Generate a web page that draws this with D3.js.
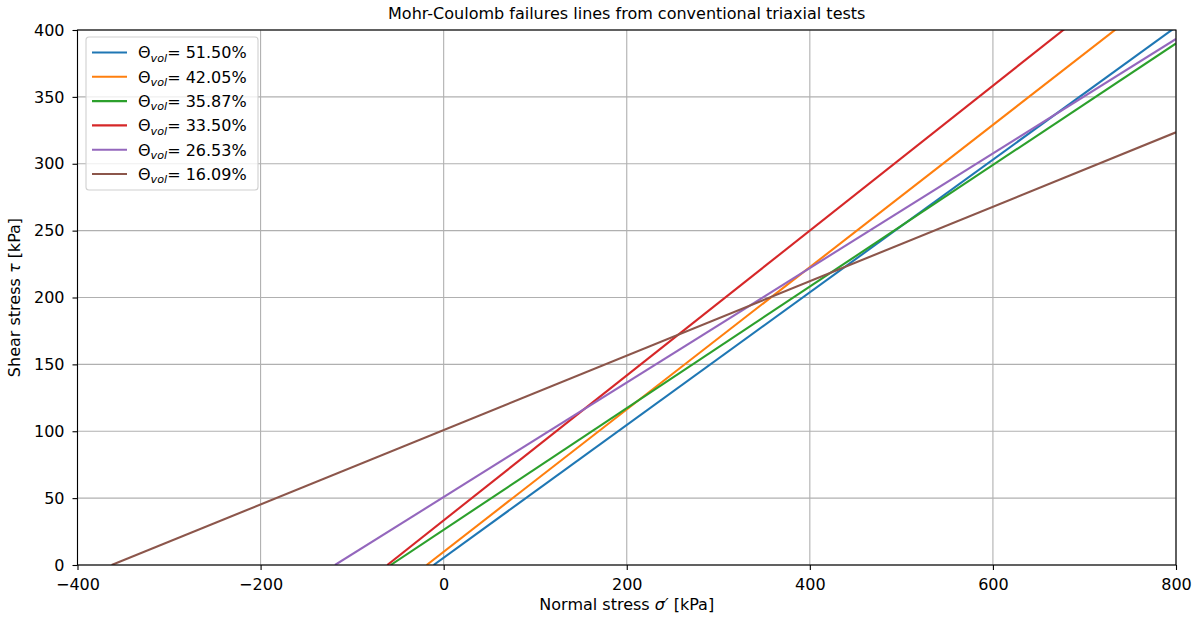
<!DOCTYPE html>
<html>
<head>
<meta charset="utf-8">
<script src="https://cdn.jsdelivr.net/npm/d3@7"></script>
<style>
  body { margin: 0; background: #fff; }
  svg text { font-family: "DejaVu Sans", sans-serif; fill: #000; }
</style>
</head>
<body>
<div id="chart"></div>
<script>
// series: each line runs from tau = 0 (sigmaStart) to sigma = 800 (tauEnd)
const labels = ["51.50%", "42.05%", "35.87%", "33.50%", "26.53%", "16.09%"]
const sigmaStart = [-11, -18.6, -57.9, -61.6, -118.7, -362.7]
const tauEnd = [402.3, 435.5, 390.0, 466.7, 393.3, 323.5]
const colors = ["#1f77b4", "#ff7f0e", "#2ca02c", "#d62728", "#9467bd", "#8c564b"]
const xTicks = [-400, -200, 0, 200, 400, 600, 800]
const yTicks = [0, 50, 100, 150, 200, 250, 300, 350, 400]

const W = 1203, H = 621
const margin = { top: 30, left: 77.5, right: 27, bottom: 56 }
const FS = "16px"

const x = d3.scaleLinear().domain([-400, 800]).range([margin.left, W - margin.right])
const y = d3.scaleLinear().domain([0, 400]).range([H - margin.bottom, margin.top])

const svg = d3.select("#chart").append("svg")
    .attr("width", W).attr("height", H)

svg.append("defs").append("clipPath").attr("id", "clip")
  .append("rect")
    .attr("x", x(-400)).attr("y", y(400))
    .attr("width", x(800) - x(-400)).attr("height", y(0) - y(400))

// grid
const grid = svg.append("g").attr("stroke", "#b0b0b0").attr("stroke-width", 1.1)
grid.selectAll(".gx").data(xTicks).join("line")
    .attr("x1", d => x(d)).attr("x2", d => x(d))
    .attr("y1", y(0)).attr("y2", y(400))
grid.selectAll(".gy").data(yTicks).join("line")
    .attr("y1", d => y(d)).attr("y2", d => y(d))
    .attr("x1", x(-400)).attr("x2", x(800))

// lines
const line = d3.line().x(d => x(d[0])).y(d => y(d[1]))
svg.append("g")
    .attr("clip-path", "url(#clip)")
    .attr("fill", "none")
    .attr("stroke-width", 2.1)
  .selectAll("path")
  .data(labels.map((l, i) => [[sigmaStart[i], 0], [800, tauEnd[i]]]))
  .join("path")
    .attr("stroke", (d, i) => colors[i])
    .attr("d", line)

// axes
const fmt = d => (d < 0 ? "\u2212" + Math.abs(d) : d)
const xAxis = svg.append("g")
    .attr("transform", `translate(0,${y(0)})`)
    .call(d3.axisBottom(x).tickValues(xTicks).tickFormat(fmt).tickSize(5).tickPadding(8).tickSizeOuter(0))
const yAxis = svg.append("g")
    .attr("transform", `translate(${x(-400)},0)`)
    .call(d3.axisLeft(y).tickValues(yTicks).tickSize(5).tickPadding(8).tickSizeOuter(0))
for (const g of [xAxis, yAxis]) {
  g.selectAll("text").style("font-size", FS).attr("font-family", null)
  g.selectAll(".tick line").attr("stroke", "#000").attr("stroke-width", 1.1)
  g.select(".domain").remove()
}
xAxis.selectAll("text").attr("y", 24.5).attr("dy", null)

// spines
svg.append("rect")
    .attr("x", x(-400)).attr("y", y(400))
    .attr("width", x(800) - x(-400)).attr("height", y(0) - y(400))
    .attr("fill", "none").attr("stroke", "#000").attr("stroke-width", 1.1)

// title & labels
svg.append("text")
    .attr("x", (x(-400) + x(800)) / 2).attr("y", 19)
    .attr("text-anchor", "middle").style("font-size", FS)
    .text("Mohr-Coulomb failures lines from conventional triaxial tests")

const xl = svg.append("text")
    .attr("x", (x(-400) + x(800)) / 2).attr("y", 610)
    .attr("text-anchor", "middle").style("font-size", FS)
xl.append("tspan").text("Normal stress ")
xl.append("tspan").style("font-style", "italic").text("\u03c3\u2032")
xl.append("tspan").text(" [kPa]")

const yl = svg.append("text")
    .attr("transform", `translate(20,${(y(0) + y(400)) / 2}) rotate(-90)`)
    .attr("text-anchor", "middle").style("font-size", FS)
yl.append("tspan").text("Shear stress ")
yl.append("tspan").style("font-style", "italic").text("\u03c4")
yl.append("tspan").text(" [kPa]")

// legend
const lg = svg.append("g").attr("transform", "translate(86,37)")
lg.append("rect")
    .attr("width", 172).attr("height", 153).attr("rx", 3)
    .attr("fill", "#fff").attr("fill-opacity", 0.8)
    .attr("stroke", "#d0d0d0").attr("stroke-width", 1.1)
const row = lg.selectAll(".row").data(labels).join("g")
    .attr("transform", (d, i) => `translate(0,${15.5 + i * 24.3})`)
row.append("line")
    .attr("x1", 6).attr("x2", 41)
    .attr("stroke", (d, i) => colors[i]).attr("stroke-width", 2.1)
const t = row.append("text")
    .attr("x", 52).attr("y", 5.8).style("font-size", FS)
t.append("tspan").text("\u0398")
t.append("tspan").attr("dy", 3.5).style("font-size", "11.2px").style("font-style", "italic").text("vol")
t.append("tspan").attr("dy", -3.5).text(d => "= " + d)
</script>
</body>
</html>
